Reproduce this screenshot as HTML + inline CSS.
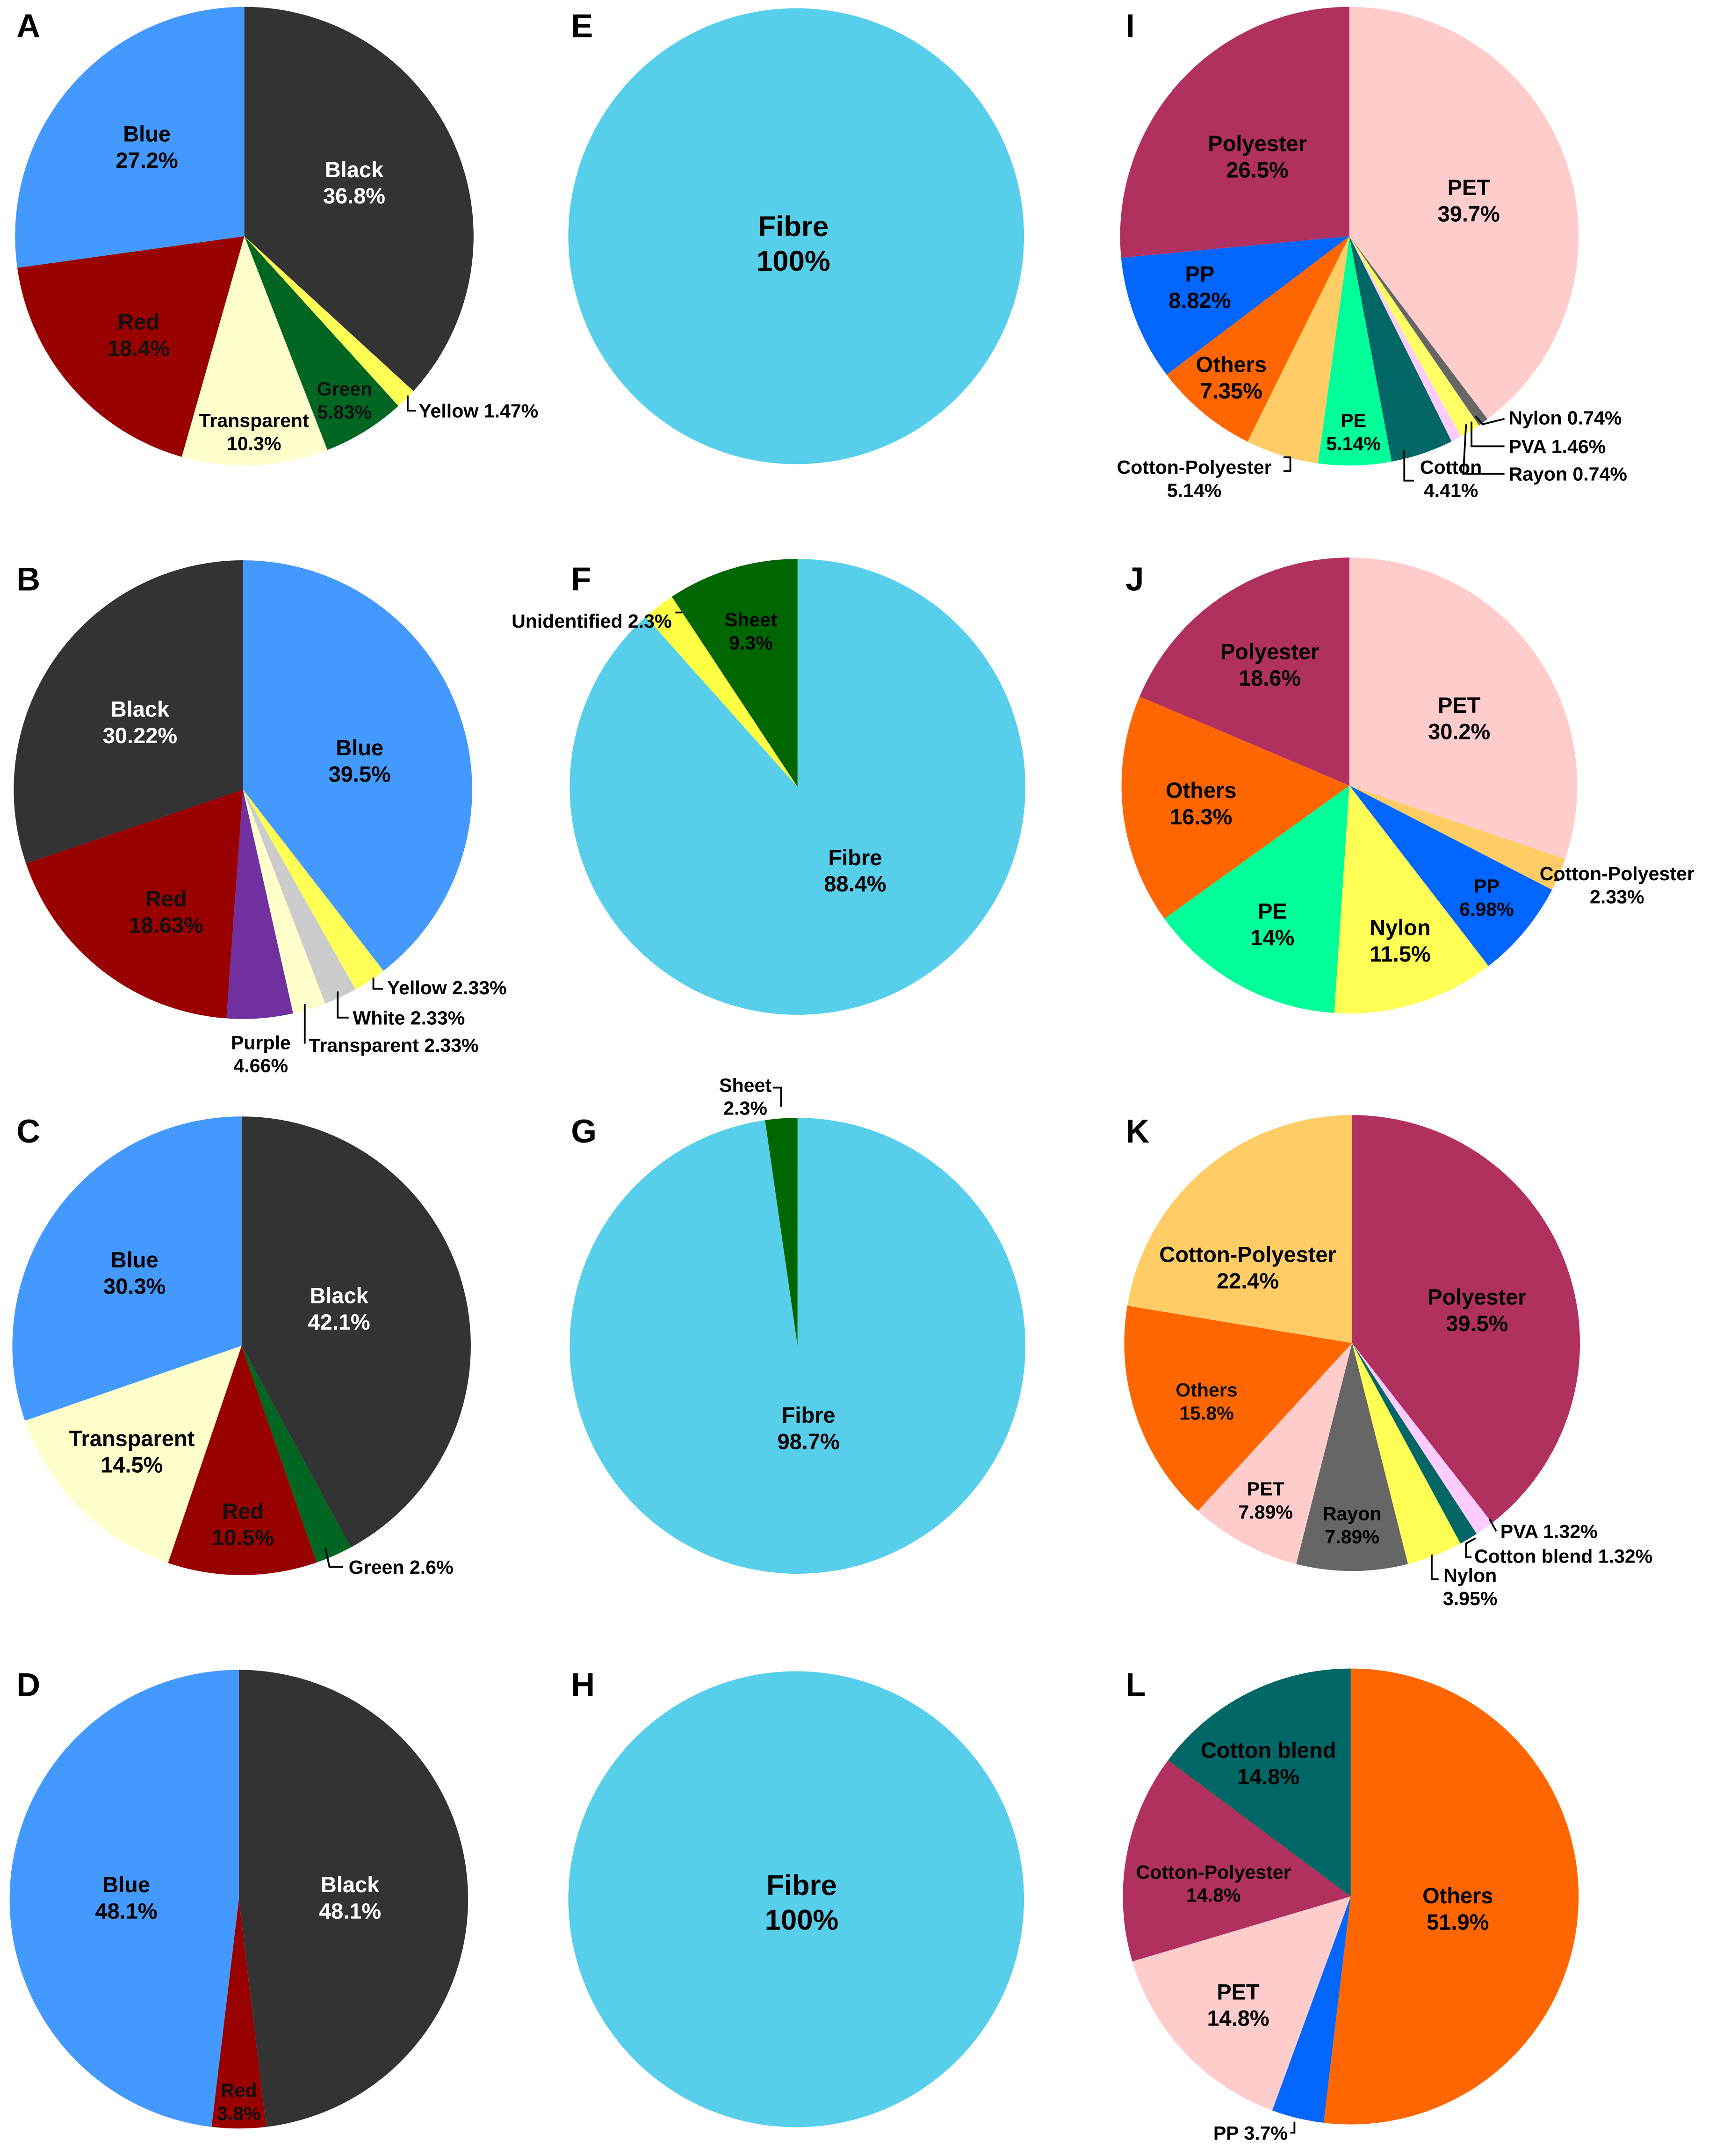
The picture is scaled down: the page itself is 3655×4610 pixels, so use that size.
<!DOCTYPE html>
<html><head><meta charset="utf-8">
<style>
html,body{margin:0;padding:0;background:#fff;}
svg{display:block;}
text{font-family:"Liberation Sans",Arial,sans-serif;font-weight:bold;}
</style></head>
<body>
<svg id="chart" width="3655" height="4610" viewBox="0 0 1245 1570" preserveAspectRatio="none" xmlns="http://www.w3.org/2000/svg">
<rect width="1245" height="1570" fill="#fff"/>
</svg>
<script>
const C={Black:'#333333',Blue:'#4499ff',Red:'#990000',Transparent:'#ffffcc',Green:'#006622',Yellow:'#ffff55',White:'#cccccc',Purple:'#7030a0',Fibre:'#57cfeb',Sheet:'#006600',Unidentified:'#ffff44',PET:'#ffcccc',Polyester:'#b03060',PP:'#0066ff',Others:'#ff6600',CottonPolyester:'#ffcc66',CottonPolyesterL:'#b03060',PE:'#00ff99',Cotton:'#006666',Nylon:'#ffff55',NylonG:'#666666',PVA:'#ffff66',PVAP:'#ffccff',Rayon:'#ffccff',RayonG:'#666666',CottonBlend:'#006666'};

// panel A
const catA=['Black','Yellow','Green','Transparent','Red','Blue'];
const valA=[36.8,1.47,5.83,10.3,18.4,27.2];
// panel B
const catB=['Blue','Yellow','White','Transparent','Purple','Red','Black'];
const valB=[39.5,2.33,2.33,2.33,4.66,18.63,30.22];
// panel C
const catC=['Black','Green','Red','Transparent','Blue'];
const valC=[42.1,2.6,10.5,14.5,30.3];
// panel D
const catD=['Black','Red','Blue'];
const valD=[48.1,3.8,48.1];
// panels E-H
const catE=['Fibre'];const valE=[100];
const catF=['Fibre','Unidentified','Sheet'];const valF=[88.4,2.3,9.3];
const catG=['Fibre','Sheet'];const valG=[98.7,2.3];
const catH=['Fibre'];const valH=[100];
// panel I
const catI=['PET','NylonG','PVA','Rayon','Cotton','PE','CottonPolyester','Others','PP','Polyester'];
const valI=[39.7,0.74,1.46,0.74,4.41,5.14,5.14,7.35,8.82,26.5];
// panel J
const catJ=['PET','CottonPolyester','PP','Nylon','PE','Others','Polyester'];
const valJ=[30.2,2.33,6.98,11.5,14,16.3,18.6];
// panel K
const catK=['Polyester','PVAP','CottonBlend','Nylon','RayonG','PET','Others','CottonPolyester'];
const valK=[39.5,1.32,1.32,3.95,7.89,7.89,15.8,22.4];
// panel L
const catL=['Others','PP','PET','CottonPolyesterL','CottonBlend'];
const valL=[51.9,3.7,14.8,14.8,14.8];

const NS='http://www.w3.org/2000/svg';
const svg=document.getElementById('chart');
function mk(tag,attrs,parent){const e=document.createElementNS(NS,tag);for(const k in attrs)e.setAttribute(k,attrs[k]);(parent||svg).appendChild(e);return e;}

function pie(id,cx,cy,r,cats,vals){
  const g=mk('g',{});
  
  
  const tot=vals.reduce((a,b)=>a+b,0);
  let a0=0;
  cats.forEach((c,i)=>{
    const frac=vals[i]/tot;
    const a1=a0+frac*2*Math.PI;
    let el;
    if(frac>=0.9999){el=mk('circle',{cx:cx,cy:cy,r:r,fill:C[c]},g);}
    else{
      const x0=cx+r*Math.sin(a0),y0=cy-r*Math.cos(a0),x1=cx+r*Math.sin(a1),y1=cy-r*Math.cos(a1);
      el=mk('path',{d:`M${cx},${cy}L${x0},${y0}A${r},${r} 0 ${frac>0.5?1:0} 1 ${x1},${y1}Z`,fill:C[c]},g);
    }
    
    
    a0=a1;
  });
}
pie('a',178,172,167,catA,valA);
pie('e',580,172,166,catE,valE);
pie('i',983,172,167,catI,valI);
pie('b',177,575,167,catB,valB);
pie('f',581,573,166,catF,valF);
pie('j',983,572,166,catJ,valJ);
pie('c',176,980,167,catC,valC);
pie('g',581,980,166,catG,valG);
pie('k',985,978,166,catK,valK);
pie('d',174,1383,167,catD,valD);
pie('h',580,1383,166,catH,valH);
pie('l',984,1381,166,catL,valL);

const labels=[
 [['Blue','27.2%'],107,103,16,'#000'],[['Black','36.8%'],258,129,16,'#fff'],[['Red','18.4%'],101,240,16,'#111'],
 [['Transparent','10.3%'],185,311,14,'#000'],[['Green','5.83%'],251,288,14,'#111'],[['Yellow 1.47%'],305,304,14,'#000','start'],
 [['Fibre','100%'],578,172,21,'#000'],
 [['Polyester','26.5%'],916,110,16,'#000'],[['PET','39.7%'],1070,142,16,'#000'],[['PP','8.82%'],874,205,16,'#000'],
 [['Others','7.35%'],897,271,16,'#000'],[['PE','5.14%'],986,311,14,'#000'],[['Cotton-Polyester','5.14%'],870,345,14,'#000'],
 [['Cotton','4.41%'],1057,345,14,'#000'],[['Nylon 0.74%'],1099,309,14,'#000','start'],[['PVA 1.46%'],1099,330,14,'#000','start'],[['Rayon 0.74%'],1099,350,14,'#000','start'],
 [['Black','30.22%'],102,522,16,'#fff'],[['Blue','39.5%'],262,550,16,'#000'],[['Red','18.63%'],121,660,16,'#111'],
 [['Yellow 2.33%'],282,724,14,'#000','start'],[['White 2.33%'],257,746,14,'#000','start'],[['Transparent 2.33%'],225,766,14,'#000','start'],[['Purple','4.66%'],190,764,14,'#000'],
 [['Unidentified 2.3%'],431,457,14,'#000'],[['Sheet','9.3%'],547,456,14,'#000'],[['Fibre','88.4%'],623,630,16,'#000'],
 [['Polyester','18.6%'],925,480,16,'#000'],[['PET','30.2%'],1063,519,16,'#000'],[['Others','16.3%'],875,581,16,'#000'],
 [['PE','14%'],927,669,16,'#000'],[['Nylon','11.5%'],1020,681,16,'#000'],[['PP','6.98%'],1083,650,14,'#000'],[['Cotton-Polyester','2.33%'],1178,641,14,'#000'],
 [['Blue','30.3%'],98,923,16,'#000'],[['Black','42.1%'],247,949,16,'#fff'],[['Transparent','14.5%'],96,1053,16,'#000'],[['Red','10.5%'],177,1106,16,'#111'],[['Green 2.6%'],254,1146,14,'#000','start'],
 [['Sheet','2.3%'],543,795,14,'#000'],[['Fibre','98.7%'],589,1036,16,'#000'],
 [['Cotton-Polyester','22.4%'],909,919,16,'#000'],[['Polyester','39.5%'],1076,950,16,'#000'],[['Others','15.8%'],879,1017,14,'#111'],
 [['PET','7.89%'],922,1089,14,'#000'],[['Rayon','7.89%'],985,1107,14,'#000'],[['PVA 1.32%'],1093,1120,14,'#000','start'],[['Cotton blend 1.32%'],1074,1138,14,'#000','start'],[['Nylon','3.95%'],1071,1152,14,'#000'],
 [['Blue','48.1%'],92,1378,16,'#000'],[['Black','48.1%'],255,1378,16,'#fff'],[['Red','3.8%'],174,1527,14,'#111'],
 [['Fibre','100%'],584,1380,21,'#000'],
 [['Cotton blend','14.8%'],924,1280,16,'#000'],[['Cotton-Polyester','14.8%'],884,1368,14,'#000'],[['Others','51.9%'],1062,1386,16,'#000'],
 [['PET','14.8%'],902,1456,16,'#000'],[['PP 3.7%'],911,1558,14,'#000']
];
labels.forEach(l=>{
  const lh=l[3]*1.2;
  l[0].forEach((s,i)=>{
    const t=mk('text',{x:l[1],y:l[2]+i*lh,'font-size':l[3],fill:l[4],'text-anchor':l[5]||'middle'});
    t.textContent=s;
    
    
  });
});

const leaders=['297,288 297,299 303,299','1075,303 1080,309 1096,305','1072,307 1072,325 1096,325','1068,309 1066,345 1096,345',
 '935,333 940,333 940,343 935,343','1023,328 1023,350 1030,350',
 '272,712 272,720 279,720','246,722 246,741 254,741','222,731 222,760',
 '492,446 497,446','563,792 569,792 569,806',
 '1132,641 1136,641','237,1127 240,1141 250,1141',
 '1085,1106 1090,1115','1075,1120 1068,1124 1068,1134 1072,1134','1043,1132 1043,1150 1048,1150',
 '943,1545 943,1553 940,1553'];
leaders.forEach(p=>{
  const e=mk('polyline',{points:p,fill:'none',stroke:'#000','stroke-width':1.3});
  
  
});

const letters=[['A',12,27],['E',416,27],['I',820,27],['B',12,430],['F',416,430],['J',820,430],['C',12,832],['G',416,832],['K',820,832],['D',12,1235],['H',416,1235],['L',820,1235]];
letters.forEach(L=>{
  const t=mk('text',{x:L[1],y:L[2],'font-size':24,fill:'#000'});
  t.textContent=L[0];
  
  
});
</script>
</body></html>
